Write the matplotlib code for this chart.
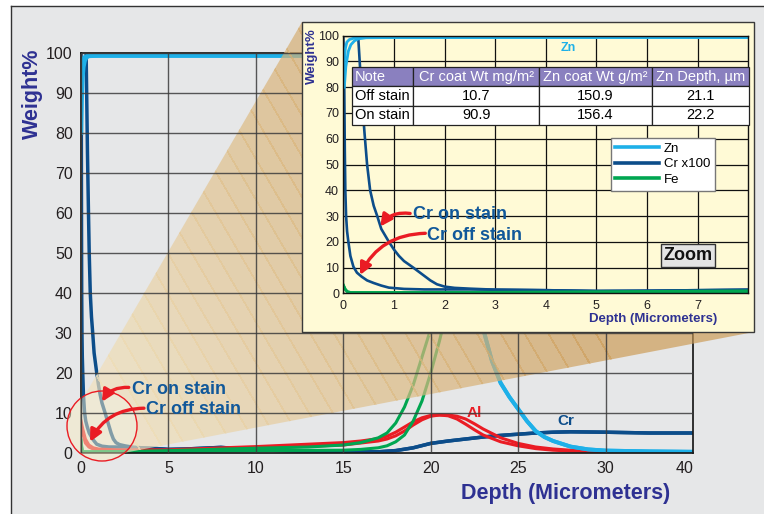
import numpy as np
import matplotlib.pyplot as plt
from matplotlib.patches import Rectangle, Circle, Polygon
from matplotlib.transforms import Affine2D

plt.rcParams['font.family'] = ['Liberation Sans', 'DejaVu Sans']

# ---- data (depth in micrometers, weight %) ----
zn_deep_depth = [1, 5, 10, 15, 20, 20.5, 21, 21.5, 22, 22.5, 23, 23.5, 24, 24.5,
                 25, 25.5, 26, 26.5, 27, 28, 29, 30, 35, 40]
zn_deep_wt = [99.3, 99.3, 99.3, 99.3, 99, 98, 95, 85, 65, 45, 31, 23, 17.5, 14,
              11, 8, 5.5, 4, 3, 1.6, 0.9, 0.6, 0.4, 0.3]
zn_off_surf_depth = [0, 0.02, 0.04, 0.07, 0.12, 0.2, 0.35]
zn_off_surf_wt = [82, 90, 95, 97.5, 98.5, 99, 99.3]
zn_on_surf_depth = [0.02, 0.05, 0.1, 0.15, 0.22, 0.3, 0.45]
zn_on_surf_wt = [80, 88, 94, 96.5, 98, 98.8, 99.2]

# Cr shown x100
cr_deep_depth = [3, 4, 5, 6, 7, 8, 10, 12.5, 15, 17, 18, 19, 20, 21, 22, 23, 24,
                 25, 26, 27, 28, 30, 35, 40]
cr_deep_wt = [1.4, 1.2, 0.9, 1.0, 1.2, 1.4, 0.8, 0.5, 0.4, 0.3, 0.6, 1.3, 2.4, 3.0,
              3.5, 4.0, 4.4, 4.7, 5.0, 5.2, 5.3, 5.2, 5.0, 5.0]
cr_off_surf_depth = [0, 0.01, 0.02, 0.03, 0.04, 0.055, 0.075, 0.1, 0.14, 0.2, 0.27,
                     0.36, 0.47, 0.6, 0.75, 0.9, 1.2, 1.6, 2, 2.5]
cr_off_surf_wt = [100, 92, 78, 55, 40, 30, 24, 20, 14.5, 10.3, 8, 6.5, 5, 4, 3, 2.2,
                  1.7, 1.5, 1.5, 1.5]
cr_on_surf_depth = [0.29, 0.33, 0.37, 0.42, 0.47, 0.53, 0.6, 0.67, 0.75, 0.9, 1.0,
                    1.1, 1.2, 1.38, 1.55, 1.72, 1.85, 2.0, 2.2, 2.5]
cr_on_surf_wt = [101, 88, 75, 62, 50, 40, 34, 30, 25, 20, 17, 14.5, 12.5, 10, 7.5,
                 5, 3.5, 2.6, 2.1, 1.8]

fe_surf_depth = [0, 0.04, 0.08, 0.15, 0.5, 1]
fe_surf_wt = [3.2, 1.5, 0.6, 0.3, 0.3, 0.3]
fe_off_deep_depth = [3, 5, 10, 13, 15, 16, 17, 17.5, 18, 18.5, 19, 19.5, 20, 20.5,
                     21, 21.5, 22, 23, 25, 30, 40]
fe_off_deep_wt = [0.4, 0.6, 1.2, 1.5, 2.0, 2.6, 3.8, 5, 7.5, 11.5, 17, 24, 31, 42,
                  58, 75, 88, 97, 99, 99.3, 99.3]
fe_on_deep_depth = [3, 5, 10, 15, 16, 17, 17.5, 18, 18.5, 19, 19.5, 20, 20.5, 21,
                    21.5, 22, 22.5, 23, 24, 25, 30, 40]
fe_on_deep_wt = [0.3, 0.4, 0.6, 0.7, 0.9, 1.3, 1.8, 2.8, 4.5, 8, 13, 20, 28, 37,
                 52, 70, 85, 93, 98, 99, 99.3, 99.3]

al_depth = [0, 0.1, 0.25, 0.45, 0.7, 1, 2, 5, 10, 15, 16, 17, 17.5, 18, 18.5, 19,
            19.5, 20, 20.5, 21, 21.5, 22, 22.5, 23, 24, 25, 26, 27, 28, 30, 35, 40]
al_off_wt = [8, 6, 3.5, 2, 1.3, 1, 0.8, 0.8, 1.6, 2.6, 3.0, 3.6, 4.2, 5.2, 6.5, 7.8,
             8.8, 9.4, 9.5, 9.3, 8.5, 7.2, 5.8, 4.5, 2.8, 1.8, 1.1, 0.7, 0.5, 0.3, 0.2, 0.2]
al_on_wt = [7, 5, 2.5, 1.5, 1.0, 0.8, 0.6, 0.6, 1.2, 2.0, 2.5, 3.0, 3.5, 4.3, 5.5, 7,
            8.3, 9.2, 9.5, 9.5, 9.2, 8.5, 7.3, 6.0, 3.8, 2.4, 1.5, 1.0, 0.7, 0.4, 0.2, 0.2]

main_xticks = [0, 5, 10, 15, 20, 25, 30, 40]
main_yticks = list(range(0, 101, 10))
col_labels = ['Note', 'Cr coat Wt mg/m²', 'Zn coat Wt g/m²', 'Zn Depth, µm']
table_rows = [['Off stain', '10.7', '150.9', '21.1'],
              ['On stain', '90.9', '156.4', '22.2']]

ZN = '#1eb0e8'
CR = '#0c4d8a'
FE = '#00a651'
AL = '#ea1c24'
NAVY = '#2e3192'
TXT_BLUE = '#11589a'
PANEL = '#e6e7e8'

zn_off = (zn_off_surf_depth + zn_deep_depth, zn_off_surf_wt + zn_deep_wt)
zn_on = (zn_on_surf_depth + zn_deep_depth, zn_on_surf_wt + zn_deep_wt)
cr_off = (cr_off_surf_depth + cr_deep_depth, cr_off_surf_wt + cr_deep_wt)
cr_on = (cr_on_surf_depth + cr_deep_depth, cr_on_surf_wt + cr_deep_wt)
fe_off = (fe_surf_depth + fe_off_deep_depth, fe_surf_wt + fe_off_deep_wt)
fe_on = (fe_surf_depth + fe_on_deep_depth, fe_surf_wt + fe_on_deep_wt)


def fwd(x):
    x = np.asarray(x, dtype=float)
    return np.where(x <= 30, x / 5, 6 + (x - 30) / 10)


def inv(u):
    u = np.asarray(u, dtype=float)
    return np.where(u <= 6, u * 5, 30 + (u - 6) * 10)


W, H = 764, 514
fig = plt.figure(figsize=(W / 100, H / 100), dpi=100)
fig.patch.set_facecolor(PANEL)
# pixel coords (y downwards) -> display
pix = Affine2D().scale(1 / W, -1 / H).translate(0, 1) + fig.transFigure

# ---- main chart ----
ax = fig.add_axes([81 / W, 61 / H, 612 / W, 400 / H], zorder=1)
ax.set_facecolor(PANEL)
ax.set_xscale('function', functions=(fwd, inv))
ax.set_xlim(0, 40)
ax.set_ylim(0, 100)
ax.set_xticks(main_xticks)
ax.set_xticklabels([str(t) for t in main_xticks])
ax.get_xticklabels()[-1].set_horizontalalignment('right')
ax.set_yticks(main_yticks)
for d, w in [cr_off, cr_on]:
    ax.plot(d, w, color=CR, lw=2.5, solid_capstyle='round', zorder=2)
ax.plot(al_depth, al_off_wt, color=AL, lw=2.2, zorder=2)
ax.plot(al_depth, al_on_wt, color=AL, lw=2.2, zorder=2)
for d, w in [fe_off, fe_on]:
    ax.plot(d, w, color=FE, lw=2.2, zorder=2)
for d, w in [zn_off, zn_on]:
    ax.plot(d, w, color=ZN, lw=2.8, zorder=2)
ax.tick_params(length=0, labelsize=11.5, labelcolor='#231f20', pad=6)
for s in ax.spines.values():
    s.set_color('#111111')
    s.set_linewidth(1.2)
ax.text(-0.08, 0.8975, 'Weight%', transform=ax.transAxes, rotation=90, ha='center',
        va='center', fontsize=15.5, fontweight='bold', color=NAVY)
ax.text(0.7925, -0.1, 'Depth (Micrometers)', transform=ax.transAxes, ha='center',
        va='center', fontsize=15.5, fontweight='bold', color=NAVY)
ax.text(22.5, 10, 'Al', color=AL, fontsize=11, fontweight='bold', ha='center', va='center')
ax.text(27.7, 8, 'Cr', color=CR, fontsize=11, fontweight='bold', ha='center', va='center')

# page border (white margin at top and left)
ax.add_patch(Rectangle((0, 0), W, 6, transform=pix, facecolor='white',
                       edgecolor='none', clip_on=False, zorder=7))
ax.add_patch(Rectangle((0, 0), 11, H, transform=pix, facecolor='white',
                       edgecolor='none', clip_on=False, zorder=7))
ax.plot([11, W], [6, 6], transform=pix, color='#333333', lw=1, clip_on=False, zorder=7)
ax.plot([11, 11], [6, H], transform=pix, color='#333333', lw=1, clip_on=False, zorder=7)

# ---- zoom fan and circle ----
cx, cy, r = 102, 426, 35
ang = np.radians(np.linspace(-50, 120, 40))
arc = np.column_stack([cx + r * np.cos(ang), cy - r * np.sin(ang)])
fan = Polygon(np.vstack([[[302, 22], [754, 332]], arc]), closed=True, transform=pix,
              facecolor='none', edgecolor='none', clip_on=False)
ax.add_patch(fan)

u = np.array([426.0, -249.0])
L = np.hypot(*u)
u = u / L
p = np.array([-u[1], u[0]])
n_bands = 24
c0 = np.array([0.95, 0.89, 0.75])
c1 = np.array([0.80, 0.61, 0.34])
base = np.array([cx, cy], dtype=float)
for i in range(n_bands):
    s0 = -2000 if i == 0 else L * i / n_bands
    s1 = 2000 if i == n_bands - 1 else L * (i + 1) / n_bands + 0.6
    quad = [base + s0 * u - 2000 * p, base + s1 * u - 2000 * p,
            base + s1 * u + 2000 * p, base + s0 * u + 2000 * p]
    col = c0 + (c1 - c0) * (i + 0.5) / n_bands
    band = Polygon(quad, closed=True, transform=pix, facecolor=col, edgecolor='none',
                   alpha=0.7, antialiased=False, zorder=3)
    band.set_clip_path(fan)
    ax.add_patch(band)

ax.add_patch(Circle((cx, cy), r, transform=pix, facecolor='#f6ebc4', alpha=0.5,
                    edgecolor='none', clip_on=False, zorder=3.5))
ax.add_patch(Circle((cx, cy), r, transform=pix, facecolor='none', edgecolor=AL, lw=1,
                    clip_on=False, zorder=4))

# grid lines at the tick positions, kept on top of the fan
for xt in main_xticks:
    ax.axvline(xt, color='#3c3c3c', lw=1.0, alpha=0.85, zorder=4.5)
for yt in main_yticks:
    ax.axhline(yt, color='#3c3c3c', lw=1.0, alpha=0.85, zorder=4.5)

# inset panel
ax.add_patch(Rectangle((302, 22), 452, 310, transform=pix, facecolor='#fffad6',
                       edgecolor='#3a3a3a', lw=1, clip_on=False, zorder=5))

arrow_kw = dict(arrowstyle='-|>,head_length=0.5,head_width=0.25', color=AL, lw=2.4,
                mutation_scale=14, shrinkA=0, shrinkB=0, connectionstyle='arc3,rad=0.3')
ax.text(2.89, 15.75, 'Cr on stain', ha='left', va='center', fontsize=13,
        fontweight='bold', color=TXT_BLUE, zorder=6)
ax.text(3.74, 11, 'Cr off stain', ha='left', va='center', fontsize=13,
        fontweight='bold', color=TXT_BLUE, zorder=6)
ax.annotate('', xy=(1.2, 12.8), xytext=(2.73, 16.4), arrowprops=arrow_kw, zorder=6)
ax.annotate('', xy=(0.52, 2.8), xytext=(3.6, 11.2), arrowprops=arrow_kw, zorder=6)

# ---- inset (zoom) chart ----
ax_in = fig.add_axes([343.3 / W, (H - 293.3) / H, 405 / W, 257.6 / H], zorder=3)
ax_in.set_facecolor('#fffad6')
for d, w in [cr_off, cr_on]:
    ln_cr, = ax_in.plot(d, w, color=CR, lw=1.9)
for d, w in [fe_off, fe_on]:
    ln_fe, = ax_in.plot(d, w, color=FE, lw=2.0)
for d, w in [zn_off, zn_on]:
    ln_zn, = ax_in.plot(d, w, color=ZN, lw=2.0)
ax_in.set_xlim(0, 8)
ax_in.set_ylim(0, 100)
ax_in.set_xticks(range(0, 8))
ax_in.set_yticks(range(0, 101, 10))
ax_in.grid(True, color='#111111', lw=0.9)
ax_in.set_axisbelow(True)
ax_in.tick_params(length=0, labelsize=9, labelcolor='#231f20')
ax_in.tick_params(axis='y', pad=3)
ax_in.tick_params(axis='x', pad=5)
for s in ax_in.spines.values():
    s.set_color('#111111')
    s.set_linewidth(1.0)

ax_in.text(-0.077, 0.921, 'Weight%', transform=ax_in.transAxes, rotation=90, ha='center',
           va='center', fontsize=9.5, fontweight='bold', color=NAVY)
ax_in.text(0.765, -0.1, 'Depth (Micrometers)', transform=ax_in.transAxes, ha='center',
           va='center', fontsize=9.5, fontweight='bold', color=NAVY)
ax_in.text(4.45, 95.2, 'Zn', color=ZN, fontsize=9, fontweight='bold', ha='center', va='center')
ax_in.text(0.851, 0.147, 'Zoom', transform=ax_in.transAxes, ha='center', va='center',
           fontsize=13, fontweight='bold', color='#111111', zorder=6,
           bbox=dict(boxstyle='square,pad=0.15', fc='#e4e4e4', ec='#333333', lw=1))

ax_in.text(1.37, 30.4, 'Cr on stain', ha='left', va='center', fontsize=13,
           fontweight='bold', color=TXT_BLUE, zorder=5)
ax_in.text(1.65, 22.6, 'Cr off stain', ha='left', va='center', fontsize=13,
           fontweight='bold', color=TXT_BLUE, zorder=5)
ax_in.annotate('', xy=(0.73, 25.9), xytext=(1.32, 31.0), arrowprops=arrow_kw, zorder=5)
ax_in.annotate('', xy=(0.33, 7.1), xytext=(1.62, 23.3), arrowprops=arrow_kw, zorder=5)

leg = ax_in.legend([ln_zn, ln_cr, ln_fe], ['Zn', 'Cr x100', 'Fe'], loc='upper left',
                   bbox_to_anchor=(0.66, 0.603), fontsize=9.5, handlelength=3.3,
                   fancybox=False, edgecolor='#777777', framealpha=1, borderpad=0.35,
                   labelspacing=0.25, handletextpad=0.4, borderaxespad=0)
leg.set_zorder(6)
for h in leg.legend_handles:
    h.set_linewidth(2.6)

tbl = ax_in.table(cellText=table_rows, colLabels=col_labels, cellLoc='center',
                  colWidths=[0.155, 0.317, 0.283, 0.245],
                  bbox=[0.0207, 0.653, 0.981, 0.2263], zorder=6)
tbl.auto_set_font_size(False)
tbl.set_fontsize(10.5)
for (row, col), cell in tbl.get_celld().items():
    cell.set_edgecolor('#222222')
    cell.set_linewidth(0.9)
    cell.PAD = 0.05
    if row == 0:
        cell.set_facecolor('#8a80bf')
        cell.get_text().set_color('white')
    else:
        cell.set_facecolor('white')
    if col == 0:
        cell.get_text().set_horizontalalignment('left')

fig.savefig('out.png', dpi=100, facecolor=fig.get_facecolor())
